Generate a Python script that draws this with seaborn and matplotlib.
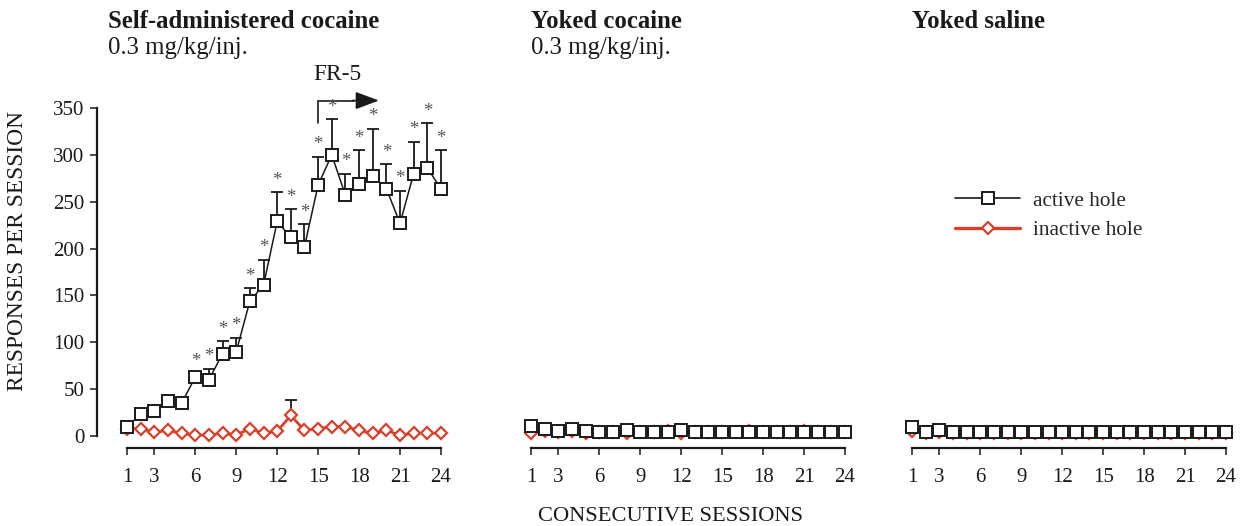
import numpy as np
import pandas as pd
import matplotlib
matplotlib.use("Agg")
import matplotlib.pyplot as plt
from matplotlib.lines import Line2D
import seaborn as sns

# ---- data -------------------------------------------------------------
sessions = list(range(1, 25))
groups = ["Self-administered cocaine", "Yoked cocaine", "Yoked saline"]
doses = ["0.3 mg/kg/inj.", "0.3 mg/kg/inj.", ""]

active_sa = [10, 23, 27, 37, 35, 63, 60, 88, 90, 144, 161, 229,
             212, 202, 268, 300, 257, 269, 278, 264, 227, 280, 286, 264]
active_sa_sem = [0, 0, 0, 0, 0, 4, 12, 13, 15, 14, 27, 31,
                 30, 24, 30, 38, 23, 36, 50, 26, 35, 34, 48, 41]
inactive_sa = [8, 8, 4, 6, 3, 1, 1, 3, 1, 8, 3, 5,
               22, 6, 8, 10, 10, 6, 3, 6, 1, 3, 3, 3]
inactive_sa_sem = [0] * 12 + [16] + [0] * 11
significant_sa = [False] * 5 + [True] * 19

active_yc = [11, 8, 5, 8, 5, 4, 4, 6, 4, 4, 4, 6,
             4, 4, 4, 4, 4, 4, 4, 4, 4, 4, 4, 4]
inactive_yc = [3, 5, 4, 5, 3, 4, 4, 3, 4, 4, 5, 3,
               4, 4, 4, 4, 5, 4, 4, 4, 5, 4, 4, 4]

active_ys = [10, 4, 6, 4, 4, 4, 4, 4, 4, 4, 4, 4,
             4, 4, 4, 4, 4, 4, 4, 4, 4, 4, 4, 4]
inactive_ys = [5, 3, 4, 3, 3, 3, 3, 3, 3, 3, 3, 3,
               3, 3, 3, 3, 3, 3, 3, 3, 3, 3, 3, 3]

fr5_start = 15          # first session under the FR-5 schedule
x_ticks = [1, 3, 6, 9, 12, 15, 18, 21, 24]
y_ticks = [0, 50, 100, 150, 200, 250, 300, 350]

records = []
for g, act, ina in zip(groups, [active_sa, active_yc, active_ys],
                       [inactive_sa, inactive_yc, inactive_ys]):
    for s, a, i in zip(sessions, act, ina):
        records.append((g, s, "active hole", a))
        records.append((g, s, "inactive hole", i))
df = pd.DataFrame(records, columns=["group", "session", "hole", "responses"])

# ---- style ------------------------------------------------------------
sns.set_theme(style="white")
plt.rcParams["font.family"] = ["Liberation Serif", "DejaVu Serif"]
plt.rcParams["axes.linewidth"] = 1.6

BLACK = "#1a1a1a"
RED = "#d9402a"
STAR = "#555555"

fig = plt.figure(figsize=(12.4, 5.26), dpi=100)
W, H = 1240.0, 526.0
lefts = [120.2, 524.2, 905.2]
axes = [fig.add_axes([l / W, 0.1532, 327.6 / W, 0.6414]) for l in lefts]

for k, (ax, g) in enumerate(zip(axes, groups)):
    sub = df[df["group"] == g]
    sns.lineplot(data=sub[sub["hole"] == "inactive hole"], x="session",
                 y="responses", ax=ax, color=RED, lw=2.0, marker="D",
                 markersize=6.3, markerfacecolor="white", markeredgecolor=RED,
                 markeredgewidth=1.6, zorder=3, clip_on=False, legend=False)
    sns.lineplot(data=sub[sub["hole"] == "active hole"], x="session",
                 y="responses", ax=ax, color=BLACK, lw=1.1, marker="s",
                 markersize=8.2, markerfacecolor="white", markeredgecolor=BLACK,
                 markeredgewidth=1.4, zorder=5, clip_on=False, legend=False)

    ax.set_xlim(0.5, 24.5)
    ax.set_ylim(-10, 350)
    ax.set_xticks(x_ticks)
    ax.set_xlabel("")
    ax.set_ylabel("")
    sns.despine(ax=ax, top=True, right=True)
    ax.spines["bottom"].set_bounds(1, 24)
    ax.spines["bottom"].set_position(("outward", 1.9))
    ax.spines["bottom"].set_color(BLACK)
    ax.tick_params(axis="x", direction="out", length=5, width=1.1,
                   colors=BLACK, labelsize=15, pad=9.5, bottom=True)
    if k == 0:
        ax.set_yticks(y_ticks)
        ax.spines["left"].set_bounds(0, 350)
        ax.spines["left"].set_position(("outward", 16.7))
        ax.spines["left"].set_color(BLACK)
        ax.tick_params(axis="y", direction="out", length=5, width=1.1,
                       colors=BLACK, labelsize=15, pad=4, left=True)
    else:
        ax.spines["left"].set_visible(False)
        ax.set_yticks([])
    ax.patch.set_alpha(0)

# ---- error bars and significance marks (self-administration) ----------
ax = axes[0]
ax.errorbar(sessions, active_sa, yerr=[np.zeros(24), active_sa_sem],
            fmt="none", ecolor=BLACK, elinewidth=1.3, capsize=4,
            capthick=1.3, zorder=4, clip_on=False)
ax.errorbar(sessions, inactive_sa, yerr=[np.zeros(24), inactive_sa_sem],
            fmt="none", ecolor=BLACK, elinewidth=1.3, capsize=4,
            capthick=1.3, zorder=2, clip_on=False)
for s, m, e, sig in zip(sessions, active_sa, active_sa_sem, significant_sa):
    if sig:
        ax.annotate("*", xy=(s, m + e), xytext=(0, 2.5), textcoords="offset points",
                    ha="center", va="bottom", fontsize=13.5, color=STAR,
                    annotation_clip=False)

# FR-5 schedule marker
ax.plot([fr5_start, fr5_start, 17.6], [334, 358, 358], color=BLACK, lw=1.2,
        clip_on=False, solid_joinstyle="miter")
ax.annotate("", xy=(19.45, 358), xytext=(17.5, 358),
            arrowprops=dict(arrowstyle="-|>,head_length=1.2,head_width=0.45",
                            color=BLACK, lw=1.2, shrinkA=0, shrinkB=0),
            annotation_clip=False)
ax.text(16.4, 386, "FR-5", ha="center", va="center", fontsize=16.8,
        color=BLACK, clip_on=False)

# ---- titles -----------------------------------------------------------
title_x = [108, 531, 912]
for tx, g, d in zip(title_x, groups, doses):
    fig.text(tx / W, 1 - 22 / H, g, ha="left", va="center", fontsize=17.8,
             fontweight="bold", color=BLACK)
    if d:
        fig.text(tx / W, 1 - 48 / H, d, ha="left", va="center", fontsize=17.8,
                 color=BLACK)

fig.text(18 / W, 1 - 251 / H, "RESPONSES PER SESSION", rotation=90,
         ha="center", va="center", fontsize=16.8, color=BLACK)
fig.text(671 / W, (H - 521) / H, "CONSECUTIVE SESSIONS", ha="center",
         va="baseline", fontsize=16.2, color=BLACK)

# ---- legend -----------------------------------------------------------
handles = [
    Line2D([], [], color=BLACK, lw=1.2, marker="s", markersize=8.2,
           markerfacecolor="white", markeredgecolor=BLACK, markeredgewidth=1.4),
    Line2D([], [], color=RED, lw=2.4, marker="D", markersize=6,
           markerfacecolor="white", markeredgecolor=RED, markeredgewidth=1.6),
]
fig.legend(handles, ["active hole", "inactive hole"], loc="center left",
           bbox_to_anchor=(955 / W, 1 - 215.5 / H), frameon=False,
           fontsize=15.3, handlelength=3.06, handletextpad=0.6,
           labelspacing=0.46, borderpad=0, borderaxespad=0)

fig.savefig("out.png", dpi=100)
